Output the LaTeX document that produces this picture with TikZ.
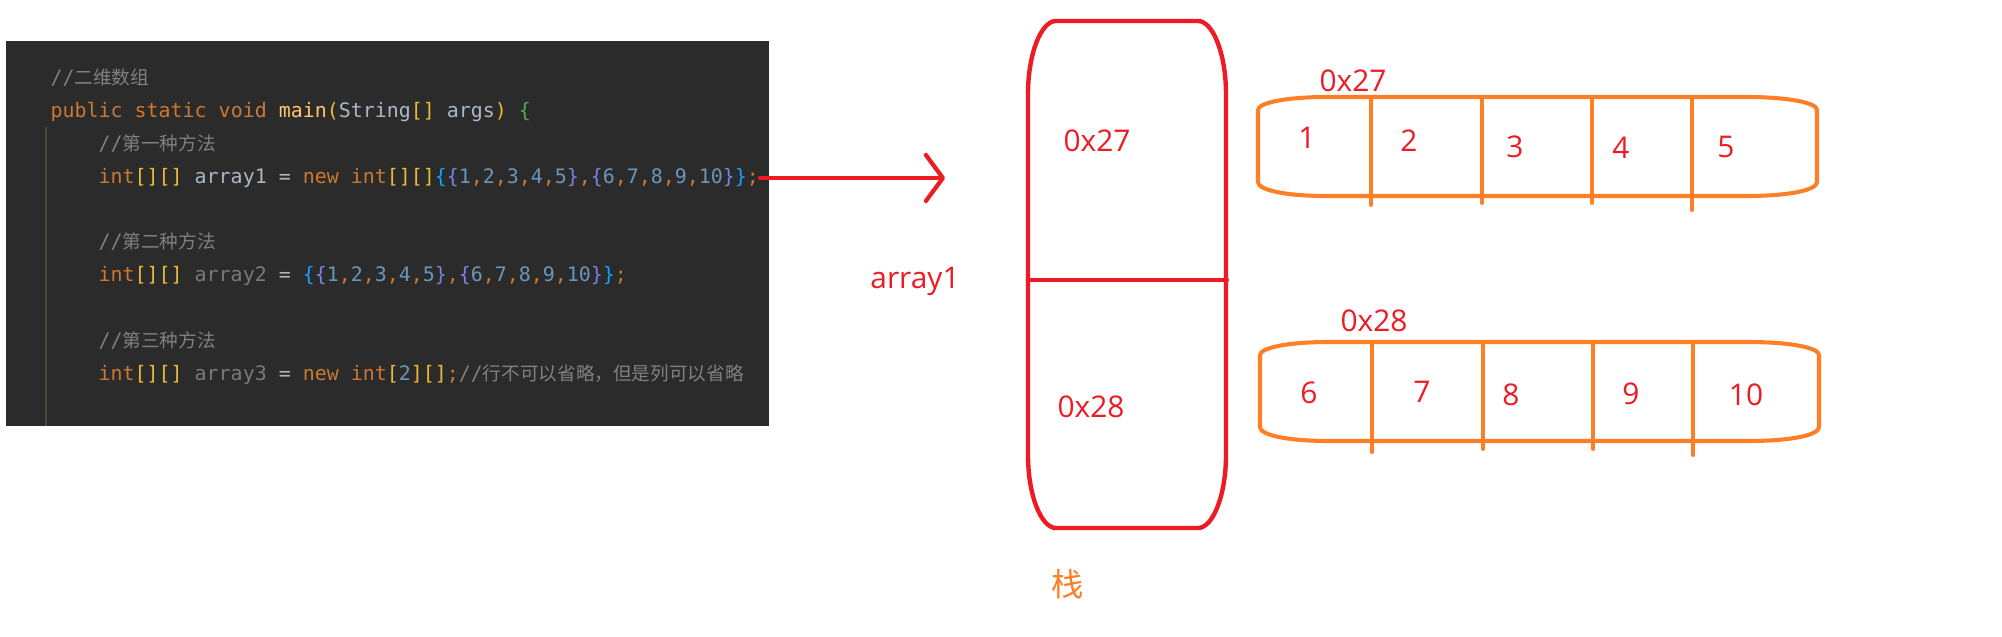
\documentclass[tikz,border=0pt]{standalone}
\usepackage{fontspec}
\setmainfont{Open Sans}
\setmonofont{DejaVu Sans Mono}
\newfontfamily\cjk{Noto Sans CJK SC}
\usepackage{xcolor}
\usepackage{tikz}
\usetikzlibrary{arrows.meta}
\definecolor{paintred}{HTML}{ED1C24}
\definecolor{paintorange}{HTML}{FF7F27}
\definecolor{codebg}{HTML}{2B2B2B}
\definecolor{guide}{HTML}{3B5236}
\definecolor{keyword}{HTML}{CC7832}
\definecolor{bracket}{HTML}{E8BA36}
\definecolor{funcname}{HTML}{FFC66D}
\definecolor{ident}{HTML}{A9B7C6}
\definecolor{unused}{HTML}{7A7A7A}
\definecolor{number}{HTML}{6897BB}
\definecolor{braceone}{HTML}{179FFF}
\definecolor{bracetwo}{HTML}{7B7FE3}
\definecolor{bracegreen}{HTML}{54A857}
\definecolor{comment}{HTML}{808080}
% code colouring
\newcommand{\jkw}[1]{\textcolor{keyword}{#1}}
\newcommand{\jbr}[1]{\textcolor{bracket}{#1}}
\newcommand{\jfn}[1]{\textcolor{funcname}{#1}}
\newcommand{\jid}[1]{\textcolor{ident}{#1}}
\newcommand{\jun}[1]{\textcolor{unused}{#1}}
\newcommand{\jnum}[1]{\textcolor{number}{#1}}
\newcommand{\jbl}[1]{\textcolor{braceone}{#1}}
\newcommand{\jpu}[1]{\textcolor{bracetwo}{#1}}
\newcommand{\jcm}{\textcolor{keyword}{,}}
\newcommand{\jcomment}[1]{\textcolor{comment}{//{\cjk\fontsize{5.3pt}{6pt}\selectfont #1}}}
\tikzset{
    codepanel/.style={fill=codebg, draw=none, inner sep=0pt},
    codeline/.style={anchor=base west, inner sep=0pt, text=ident,
        font=\ttfamily\fontsize{5.67pt}{6.5pt}\selectfont},
    redline/.style={draw=paintred, line width=1.2pt, line cap=round, line join=round},
    heapline/.style={draw=paintorange, line width=1.15pt, line cap=round, line join=round},
    memtext/.style={text=paintred, inner sep=0pt, font=\fontsize{8.5pt}{10pt}\selectfont},
}

\begin{document}
\begin{tikzpicture}[x=0.01cm, y=-0.01cm]
    \fill[white] (0,0) rectangle (2002,636);
    \useasboundingbox (0,0) rectangle (2002,636);

    % code screenshot
    \node[codepanel, minimum width=7.63cm, minimum height=3.85cm] (code) at (387.5,233.5) {};
    \draw[guide, line width=0.45pt] (46,127) -- (46,426);

    \node[codeline] (l1) at (50,84) {\jcomment{二维数组}};
    \node[codeline] (l2) at (50,117) {\jkw{public static void} \jfn{main}\jbr{(}String\jbr{[]} args\jbr{)} \textcolor{bracegreen}{\{}};
    \node[codeline] (l3) at (98,150) {\jcomment{第一种方法}};
    \node[codeline] (l4) at (98,183) {\jkw{int}\jbr{[][]} array1 = \jkw{new} \jkw{int}\jbr{[][]}\jbl{\{}\jpu{\{}\jnum{1\jcm2\jcm3\jcm4\jcm5}\jpu{\}}\jcm\jpu{\{}\jnum{6\jcm7\jcm8\jcm9\jcm10}\jpu{\}}\jbl{\}}\jkw{;}};
    \node[codeline] (l5) at (98,248) {\jcomment{第二种方法}};
    \node[codeline] (l6) at (98,281) {\jkw{int}\jbr{[][]} \jun{array2} = \jbl{\{}\jpu{\{}\jnum{1\jcm2\jcm3\jcm4\jcm5}\jpu{\}}\jcm\jpu{\{}\jnum{6\jcm7\jcm8\jcm9\jcm10}\jpu{\}}\jbl{\}}\jkw{;}};
    \node[codeline] (l7) at (98,347) {\jcomment{第三种方法}};
    \node[codeline] (l8) at (98,380) {\jkw{int}\jbr{[][]} \jun{array3} = \jkw{new} \jkw{int}\jbr{[}\jnum{2}\jbr{][]}\jkw{;}\jcomment{行不可以省略，但是列可以省略}};

    % reference arrow
    \coordinate (arrowstart) at (760,178);
    \coordinate (arrowend) at (945,178);
    \draw[redline, -{Straight Barb[length=0.17cm, width=0.46cm, round]}] (arrowstart) -- (arrowend);
    \node[memtext] (name) at (915,281) {array1};

    % stack frame (corner radii 28 x 73)
    \draw[redline, line width=1.25pt] (1056,21) -- (1198,21)
        .. controls (1213,21) and (1226,54) .. (1226,94) -- (1226,455)
        .. controls (1226,495) and (1213,528) .. (1198,528) -- (1056,528)
        .. controls (1041,528) and (1028,495) .. (1028,455) -- (1028,94)
        .. controls (1028,54) and (1041,21) .. cycle;
    \draw[redline, line width=1.25pt] (1028,280) -- (1227,280);
    \node[memtext] (slot1) at (1097,141) {0x27};
    \node[memtext] (slot2) at (1091,407) {0x28};
    \node[memtext, text=paintorange, font=\cjk\fontsize{9.2pt}{11pt}\selectfont] (stack) at (1068,584) {栈};

    % heap arrays
    \foreach \dx/\dy in {0/0, 2/245} {
        \begin{scope}[shift={(\dx,\dy)}]
            \draw[heapline] (1327,97) -- (1746,97)
                .. controls (1790,97) and (1817,103) .. (1817,110) -- (1817,182)
                .. controls (1817,190) and (1790,196) .. (1746,196) -- (1327,196)
                .. controls (1285,196) and (1258,190) .. (1258,182) -- (1258,110)
                .. controls (1258,103) and (1285,97) .. cycle;
        \end{scope}
    }
    \foreach \x/\yb in {1371/205, 1482/203, 1592/203, 1692/210}
        \draw[heapline] (\x,98) -- (\x,\yb);
    \foreach \x/\yb in {1372/452, 1483/449, 1593/449, 1693/455}
        \draw[heapline] (\x,343) -- (\x,\yb);

    \node[memtext] (addr1) at (1353,81) {0x27};
    \node[memtext] (c1) at (1307,138) {1};
    \node[memtext] (c2) at (1409,141) {2};
    \node[memtext] (c3) at (1515,147) {3};
    \node[memtext] (c4) at (1621,148) {4};
    \node[memtext] (c5) at (1726,147) {5};

    \node[memtext] (addr2) at (1374,321) {0x28};
    \node[memtext] (c6) at (1309,393) {6};
    \node[memtext] (c7) at (1422,392) {7};
    \node[memtext] (c8) at (1511,395) {8};
    \node[memtext] (c9) at (1631,394) {9};
    \node[memtext] (c10) at (1746,395) {10};
\end{tikzpicture}
\end{document}
